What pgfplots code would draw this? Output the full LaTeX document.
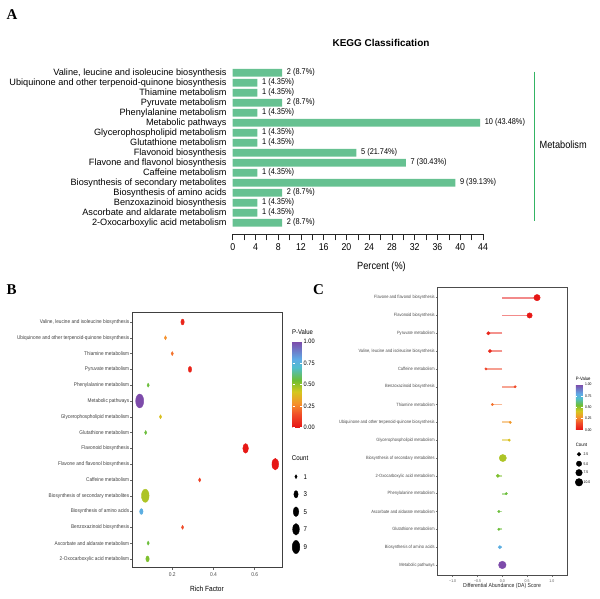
\documentclass[border=0pt]{standalone}
\usepackage{pgfplots}
\pgfplotsset{compat=1.18}
\usepackage{pgfplotstable}
\usepackage{fontspec}
\setmainfont{Liberation Sans}
\newfontfamily\nar[FakeStretch=0.88]{Liberation Sans}
\newfontfamily\tnr{Liberation Serif}
\definecolor{barg}{RGB}{102,193,145}
\definecolor{brk}{RGB}{52,180,100}
\pgfplotsset{
  colormap={pv}{rgb255(0pt)=(230,20,20); rgb255(15pt)=(240,75,40); rgb255(28pt)=(245,145,45); rgb255(42pt)=(212,200,30); rgb255(55pt)=(110,190,50); rgb255(70pt)=(80,190,205); rgb255(80pt)=(95,170,230); rgb255(100pt)=(125,75,170)}
}
\pgfplotstableread{
i rf p c
15 0.25 0.05 2
14 0.167 0.28 1
13 0.20 0.22 1
12 0.286 0.04 2
11 0.083 0.56 1
10 0.042 1.00 10
9 0.143 0.40 1
8 0.071 0.56 1
7 0.556 0.01 5
6 0.70 0.005 7
5 0.333 0.12 1
4 0.069 0.47 9
3 0.05 0.78 2
2 0.25 0.15 1
1 0.083 0.56 1
0 0.08 0.53 2
}\dataB
\pgfplotstableread{
i z da p c
15 0 0.70 0.005 7
14 0 0.55 0.01 5
13 0 -0.28 0.05 2
12 0 -0.25 0.06 2
11 0 -0.33 0.12 1
10 0 0.26 0.15 1
9 0 -0.20 0.22 1
8 0 0.16 0.30 1
7 0 0.14 0.40 1
6 0 0.01 0.47 9
5 0 -0.09 0.53 2
4 0 0.08 0.56 1
3 0 -0.07 0.56 1
2 0 -0.07 0.56 1
1 0 -0.05 0.78 2
0 0 0.00 1.00 10
}\dataC
\pgfplotstableread{
x y c
296 122.3 1
296 104.7 3
296 87.3 5
296 69.7 7
296 52.0 9
}\legB
\pgfplotstableread{
x y c
579 144.7 2.5
579 135.3 5.0
579 126.3 7.5
579 116.7 10.0
}\legC
\begin{document}
\begin{tikzpicture}[x=1bp,y=1bp]
\path[use as bounding box] (0,0) rectangle (600,599);

% ---------------- Panel A ----------------
\begin{axis}[
  at={(232.7bp,364.7bp)}, anchor=south west,
  width=250.3bp, height=166.6bp, scale only axis,
  xmin=0, xmax=44, ymin=-1.16, ymax=15.5,
  axis x line*=bottom, axis y line*=left,
  y axis line style={draw=none},
  x axis line style={line width=0.8bp, black!85},
  xbar, bar width=7.7bp,
  xtick={0,4,...,44}, minor xtick={2,6,...,42},
  xticklabels={0,4,8,12,16,20,24,28,32,36,40,44},
  xtick align=outside, major tick length=6bp, minor tick length=6bp,
  xtick style={line width=0.7bp, black!85},
  ytick={0,...,15}, ytick style={draw=none},
  yticklabels={2-Oxocarboxylic acid metabolism, Ascorbate and aldarate metabolism, Benzoxazinoid biosynthesis, Biosynthesis of amino acids, Biosynthesis of secondary metabolites, Caffeine metabolism, Flavone and flavonol biosynthesis, Flavonoid biosynthesis, Glutathione metabolism, Glycerophospholipid metabolism, Metabolic pathways, Phenylalanine metabolism, Pyruvate metabolism, Thiamine metabolism, Ubiquinone and other terpenoid-quinone biosynthesis, {Valine, leucine and isoleucine biosynthesis}},
  yticklabel style={font=\fontsize{9.2}{9.2}\selectfont, inner sep=0pt, xshift=0bp},
  xticklabel style={font=\nar\fontsize{10}{10}\selectfont, inner sep=0pt, yshift=-3bp},
  point meta=explicit symbolic,
  nodes near coords,
  nodes near coords style={font=\nar\fontsize{8.4}{8.4}\selectfont, anchor=west, inner sep=0pt, xshift=4.6bp},
  clip=false,
]
\addplot[fill=barg, draw=none] coordinates {
  (8.7,0) [{2 (8.7\%)}]
  (4.35,1) [{1 (4.35\%)}]
  (4.35,2) [{1 (4.35\%)}]
  (8.7,3) [{2 (8.7\%)}]
  (39.13,4) [{9 (39.13\%)}]
  (4.35,5) [{1 (4.35\%)}]
  (30.43,6) [{7 (30.43\%)}]
  (21.74,7) [{5 (21.74\%)}]
  (4.35,8) [{1 (4.35\%)}]
  (4.35,9) [{1 (4.35\%)}]
  (43.48,10) [{10 (43.48\%)}]
  (4.35,11) [{1 (4.35\%)}]
  (8.7,12) [{2 (8.7\%)}]
  (4.35,13) [{1 (4.35\%)}]
  (4.35,14) [{1 (4.35\%)}]
  (8.7,15) [{2 (8.7\%)}]
};
\end{axis}
\node[font=\bfseries\fontsize{10}{10}\selectfont] at (381,556.3) {KEGG Classification};
\node[font=\nar\fontsize{10.5}{10.5}\selectfont] at (381.5,332) {Percent (\%)};
\draw[brk, line width=1bp] (534.6,527.3) -- (534.6,378.3);
\node[font=\nar\fontsize{10.5}{10.5}\selectfont, anchor=west, inner sep=0pt] at (539.5,454) {Metabolism};
\node[font=\tnr\bfseries\fontsize{15}{15}\selectfont] at (12,584) {A};
\node[font=\tnr\bfseries\fontsize{15}{15}\selectfont] at (11.5,309.5) {B};
\node[font=\tnr\bfseries\fontsize{15}{15}\selectfont] at (318.5,309.5) {C};

% ---------------- Panel B ----------------
\begin{axis}[
  at={(132.7bp,31.7bp)}, anchor=south west,
  width=150bp, height=254.6bp, scale only axis,
  xmin=0.008, xmax=0.736, ymin=-0.53, ymax=15.59,
  axis line style={black!75, line width=0.7bp},
  xtick={0.2,0.4,0.6}, xticklabels={0.2,0.4,0.6},
  ytick={0,...,15},
  yticklabels={2-Oxocarboxylic acid metabolism, Ascorbate and aldarate metabolism, Benzoxazinoid biosynthesis, Biosynthesis of amino acids, Biosynthesis of secondary metabolites, Caffeine metabolism, Flavone and flavonol biosynthesis, Flavonoid biosynthesis, Glutathione metabolism, Glycerophospholipid metabolism, Metabolic pathways, Phenylalanine metabolism, Pyruvate metabolism, Thiamine metabolism, Ubiquinone and other terpenoid-quinone biosynthesis, {Valine, leucine and isoleucine biosynthesis}},
  tick align=outside, major tick length=2.5bp, tick style={black!60, line width=0.5bp},
  xtick pos=bottom, ytick pos=left,
  xticklabel style={font=\nar\fontsize{5.6}{5.6}\selectfont, text=black!70, inner sep=0pt, yshift=-2.5bp},
  yticklabel style={font=\nar\fontsize{5.4}{5.4}\selectfont, text=black!75, inner sep=0pt, xshift=-0.8bp},
  colormap name=pv, point meta min=0, point meta max=1,
  colorbar,
  colorbar style={
    at={(parent axis.north east)}, anchor=north west, xshift=1.3bp, yshift=-29bp,
    width=9bp, height=86bp, scale only axis,
    ytick={0,0.25,0.5,0.75,1}, yticklabels={0.00,0.25,0.50,0.75,1.00},
    yticklabel style={font=\nar\fontsize{6.4}{6.4}\selectfont, inner sep=0pt, xshift=2bp},
    tick align=inside, major tick length=2bp, tick style={white, line width=0.5bp},
    axis line style={draw=none},
  },
]
\addplot[scatter, only marks, mark=*, point meta=explicit,
  scatter/use mapped color={draw=mapped color, fill=mapped color},
  visualization depends on={\thisrow{c}\as\cnt},
  scatter/@pre marker code/.append style={/tikz/mark size={2.3*sqrt(\cnt)-0.3}},
  mark options={xscale=0.58}]
  table[x=rf, y=i, meta=p] {\dataB};
\end{axis}
\node[font=\nar\fontsize{6.8}{6.8}\selectfont, anchor=west, inner sep=0pt] at (292,267.3) {P-Value};
\node[font=\nar\fontsize{7}{7}\selectfont, anchor=west, inner sep=0pt] at (291.7,141.3) {Count};
\node[font=\nar\fontsize{7.5}{7.5}\selectfont] at (207,10) {Rich Factor};
\foreach \t/\yy in {1/122.3,3/104.7,5/87.3,7/69.7,9/52.0}{
  \node[font=\nar\fontsize{7}{7}\selectfont, anchor=west, inner sep=0pt] at (303.5,\yy) {\t};
}

% ---------------- Panel C ----------------
\begin{axis}[
  at={(437.3bp,23.7bp)}, anchor=south west,
  width=130bp, height=288bp, scale only axis,
  xmin=-1.31, xmax=1.31, ymin=-0.58, ymax=15.58,
  axis line style={black!70, line width=0.7bp},
  xtick={-1,-0.5,0,0.5,1}, xticklabels={−1.0,−0.5,0.0,0.5,1.0},
  ytick={0,...,15},
  yticklabels={Metabolic pathways, Biosynthesis of amino acids, Glutathione metabolism, Ascorbate and aldarate metabolism, Phenylalanine metabolism, 2-Oxocarboxylic acid metabolism, Biosynthesis of secondary metabolites, Glycerophospholipid metabolism, Ubiquinone and other terpenoid-quinone biosynthesis, Thiamine metabolism, Benzoxazinoid biosynthesis, Caffeine metabolism, {Valine, leucine and isoleucine biosynthesis}, Pyruvate metabolism, Flavonoid biosynthesis, Flavone and flavonol biosynthesis},
  tick align=outside, major tick length=1.8bp, tick style={black!55, line width=0.4bp},
  xtick pos=bottom, ytick pos=left,
  xticklabel style={font=\nar\fontsize{4}{4}\selectfont, text=black!65, inner sep=0pt, yshift=-2bp},
  yticklabel style={font=\nar\fontsize{4.6}{4.6}\selectfont, text=black!70, inner sep=0pt, xshift=-0.6bp},
  colormap name=pv, point meta min=0, point meta max=1,
  colorbar,
  colorbar style={
    at={(parent axis.north east)}, anchor=north west, xshift=0bp, yshift=-97.4bp,
    width=7bp, height=45.3bp, scale only axis,
    ytick={0,0.25,0.5,0.75,1}, yticklabels={0.00,0.25,0.50,0.75,1.00},
    yticklabel style={font=\nar\fontsize{3.8}{3.8}\selectfont, inner sep=0pt, xshift=2bp},
    tick align=inside, major tick length=1.5bp, tick style={white, line width=0.4bp},
    axis line style={draw=none},
  },
]
\addplot[quiver={u=\thisrow{da}, v=0, colored}, quiver/every arrow/.append style={line width=1.8bp, opacity=0.5}, line width=1.8bp, -, mark=none, point meta=explicit]
  table[x=z, y=i, meta=p] {\dataC};
\addplot[scatter, only marks, mark=*, point meta=explicit,
  scatter/use mapped color={draw=mapped color, fill=mapped color},
  visualization depends on={\thisrow{c}\as\cnt},
  scatter/@pre marker code/.append style={/tikz/mark size={1.2*sqrt(\cnt)}}]
  table[x=da, y=i, meta=p] {\dataC};
\end{axis}
\node[font=\nar\fontsize{4.8}{4.8}\selectfont, anchor=west, inner sep=0pt] at (575.7,220.3) {P-Value};
\node[font=\nar\fontsize{4.8}{4.8}\selectfont, anchor=west, inner sep=0pt] at (575.7,154.3) {Count};
\node[font=\nar\fontsize{5.8}{5.8}\selectfont, text=black!85] at (502,13.3) {Differential Abundance (DA) Score};
\foreach \t/\yy in {2.5/144.7,5.0/135.3,7.5/126.3,10.0/116.7}{
  \node[font=\nar\fontsize{3.8}{3.8}\selectfont, anchor=west, inner sep=0pt] at (583.5,\yy) {\t};
}

% ---------------- legend keys ----------------
\begin{axis}[
  at={(0bp,0bp)}, anchor=south west, width=600bp, height=599bp, scale only axis,
  xmin=0, xmax=600, ymin=0, ymax=599, hide axis, clip=false,
  point meta min=0, point meta max=10,
]
\addplot[scatter, only marks, mark=*, point meta=explicit,
  scatter/use mapped color={draw=black, fill=black},
  visualization depends on={\thisrow{c}\as\cnt},
  scatter/@pre marker code/.append style={/tikz/mark size={2.3*sqrt(\cnt)-0.3}},
  mark options={xscale=0.58}]
  table[x=x, y=y, meta=c] {\legB};
\addplot[scatter, only marks, mark=*, point meta=explicit,
  scatter/use mapped color={draw=black, fill=black},
  visualization depends on={\thisrow{c}\as\cnt},
  scatter/@pre marker code/.append style={/tikz/mark size={1.2*sqrt(\cnt)}}]
  table[x=x, y=y, meta=c] {\legC};
\end{axis}
\end{tikzpicture}
\end{document}
